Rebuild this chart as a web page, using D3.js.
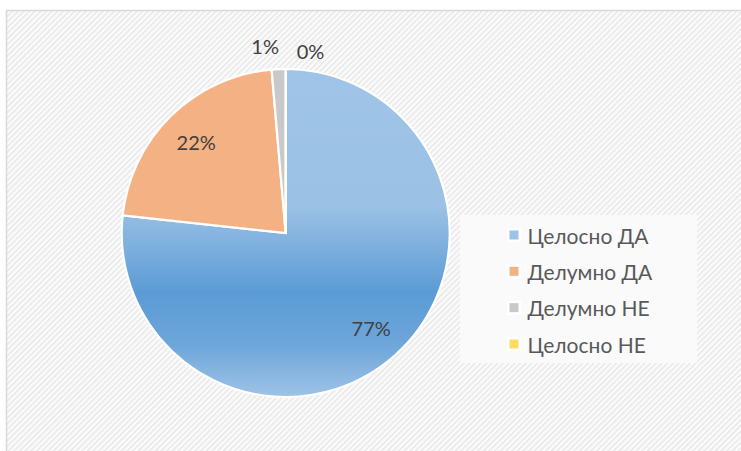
<!DOCTYPE html>
<html>
<head>
<meta charset="utf-8">
<script src="https://cdn.jsdelivr.net/npm/d3@7"></script>
<style>
  html, body { margin: 0; padding: 0; background: #ffffff; }
  svg { display: block; }
</style>
</head>
<body>
<svg id="chart" width="741" height="451"></svg>
<script>
// Answer categories and response counts
const categories = ["Целосно ДА", "Делумно ДА", "Делумно НЕ", "Целосно НЕ"];
const counts = [56, 16, 1, 0];
const colors = ["#9dc3e6", "#f4b183", "#c9c9c9", "#ffd966"];

const W = 741, H = 451;
const svg = d3.select("#chart");
const defs = svg.append("defs");

// Diagonal hatched chart-area fill
const pat = defs.append("pattern")
  .attr("id", "hatch")
  .attr("patternUnits", "userSpaceOnUse")
  .attr("width", 4).attr("height", 4)
  .attr("patternTransform", "rotate(45)");
pat.append("rect").attr("width", 4).attr("height", 4).attr("fill", "#fbfbfb");
pat.append("rect").attr("width", 1.4).attr("height", 4).attr("fill", "#e6e6e6");

svg.append("rect")
  .attr("x", 6.5).attr("y", 10.5)
  .attr("width", W).attr("height", H)
  .attr("fill", "url(#hatch)")
  .attr("stroke", "#d9d9d9")
  .attr("stroke-width", 1.5);

const cx = 285.7, cy = 233, r = 164;

// Vertical shading for the main slice (coordinates local to the pie group)
const grad = defs.append("linearGradient")
  .attr("id", "blueShade")
  .attr("gradientUnits", "userSpaceOnUse")
  .attr("x1", 0).attr("x2", 0)
  .attr("y1", -r).attr("y2", r);
[[0, "#9fc4e7"], [0.42, "#9bc1e5"], [0.68, "#5b9bd5"], [0.84, "#6ea6da"], [1, "#9ec3e6"]]
  .forEach(([o, c]) => grad.append("stop").attr("offset", o).attr("stop-color", c));

const total = d3.sum(counts);
const pie = d3.pie().sort(null).value(d => d)(counts);
const arc = d3.arc().innerRadius(0).outerRadius(r);

const g = svg.append("g").attr("transform", `translate(${cx},${cy})`);

g.selectAll("path.slice")
  .data(pie)
  .join("path")
  .attr("class", "slice")
  .attr("d", arc)
  .attr("fill", (d, i) => i === 0 ? "url(#blueShade)" : colors[i])
  .attr("stroke", "#ffffff")
  .attr("stroke-width", 2.2)
  .attr("stroke-linejoin", "miter");

// Percentage labels: inside for large slices, above the rim for tiny ones
const labelArc = d3.arc().innerRadius(r * 0.78).outerRadius(r * 0.78);
const fmt = v => Math.round(v / total * 100) + "%";
let smallIdx = 0;
pie.forEach((d, i) => {
  const share = d.value / total;
  const t = g.append("text")
    .attr("font-family", "Lato, 'Open Sans', sans-serif")
    .attr("font-size", 20)
    .attr("fill", "#404040")
    .text(fmt(d.value));
  if (share >= 0.05) {
    const [x, y] = labelArc.centroid(d);
    t.attr("x", x).attr("y", y).attr("text-anchor", "middle").attr("dominant-baseline", "central");
  } else {
    const mid = (d.startAngle + d.endAngle) / 2;
    const rr = r + (smallIdx === 0 ? 15 : 10);
    const x = rr * Math.sin(mid);
    const y = -rr * Math.cos(mid);
    if (smallIdx === 0) t.attr("x", x + 1).attr("y", y).attr("text-anchor", "end");
    else t.attr("x", x + 11).attr("y", y).attr("text-anchor", "start");
    smallIdx++;
  }
});

// Legend
const lg = svg.append("g");
lg.append("rect")
  .attr("x", 460).attr("y", 215)
  .attr("width", 237).attr("height", 148)
  .attr("fill", "#fafafa");
const rowY = d3.scalePoint().domain(categories).range([235, 344]);
categories.forEach((c, i) => {
  const y = rowY(c);
  lg.append("rect")
    .attr("x", 507).attr("y", y - 7)
    .attr("width", 14).attr("height", 14)
    .attr("fill", "#ffffff");
  lg.append("rect")
    .attr("x", 509.5).attr("y", y - 4.5)
    .attr("width", 9).attr("height", 9)
    .attr("fill", colors[i]);
  lg.append("text")
    .attr("x", 527.5).attr("y", y)
    .attr("dominant-baseline", "central")
    .attr("font-family", "Lato, 'Open Sans', sans-serif")
    .attr("font-size", 21)
    .attr("fill", "#595959")
    .text(c);
});
</script>
</body>
</html>
